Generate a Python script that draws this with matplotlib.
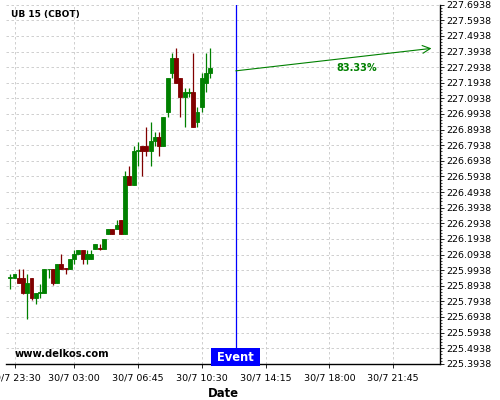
import matplotlib
matplotlib.use('Agg')
import matplotlib.pyplot as plt
import matplotlib.dates as mdates
from matplotlib.ticker import FixedLocator, NullFormatter
from matplotlib.transforms import blended_transform_factory
import pandas as pd

# ---- data ----
first_candle = '2015-07-29 23:15'
opens = [225.943, 225.943, 225.943, 225.943, 225.846, 225.943, 225.814, 225.846,
         225.846, 226.000, 225.999, 225.909, 226.031, 226.005, 225.999, 226.063,
         226.095, 226.125, 226.063, 226.063, 226.127, 226.135, 226.127, 226.223,
         226.255, 226.255, 226.313, 226.223, 226.595, 226.537, 226.759, 226.787,
         226.787, 226.757, 226.820, 226.845, 226.789, 227.008, 227.258, 227.352,
         227.226, 227.104, 227.130, 227.132, 226.943, 227.040, 227.194, 227.258]
highs = [225.971, 225.971, 226.003, 226.003, 225.971, 225.943, 225.846, 225.907,
         225.999, 226.003, 225.999, 226.031, 226.095, 226.005, 226.063, 226.125,
         226.125, 226.125, 226.125, 226.125, 226.159, 226.159, 226.191, 226.255,
         226.255, 226.313, 226.313, 226.627, 226.659, 226.787, 226.815, 226.787,
         226.909, 226.941, 226.879, 226.879, 226.975, 227.226, 227.382, 227.414,
         227.226, 227.161, 227.161, 227.382, 227.040, 227.256, 227.382, 227.414]
lows = [225.875, 225.943, 225.909, 225.840, 225.682, 225.800, 225.778, 225.814,
        225.846, 225.941, 225.900, 225.909, 225.999, 225.971, 225.999, 226.035,
        226.095, 226.035, 226.031, 226.063, 226.127, 226.125, 226.127, 226.223,
        226.223, 226.255, 226.223, 226.223, 226.537, 226.537, 226.659, 226.595,
        226.723, 226.659, 226.787, 226.723, 226.789, 226.975, 227.226, 227.194,
        226.975, 226.909, 227.100, 226.911, 226.911, 227.008, 227.132, 227.226]
closes = [225.947, 225.971, 225.909, 225.846, 225.909, 225.814, 225.846, 225.853,
          225.999, 226.003, 225.909, 226.031, 225.999, 226.000, 226.063, 226.095,
          226.125, 226.063, 226.095, 226.095, 226.159, 226.131, 226.191, 226.255,
          226.223, 226.283, 226.223, 226.595, 226.537, 226.755, 226.762, 226.757,
          226.757, 226.820, 226.845, 226.789, 226.975, 227.226, 227.352, 227.194,
          227.104, 227.132, 227.132, 226.911, 227.008, 227.226, 227.258, 227.288]

event_time = '2015-07-30 12:30'
arrow_end_time = '2015-07-31 00:00'
arrow_start_price = 227.27
arrow_end_price = 227.414
probability_label = '83.33%'

x_start = '2015-07-29 23:00'
x_end = '2015-07-31 00:30'
x_tick_times = ['2015-07-29 23:30', '2015-07-30 03:00', '2015-07-30 06:45',
                '2015-07-30 10:30', '2015-07-30 14:15', '2015-07-30 18:00',
                '2015-07-30 21:45']
x_tick_labels = ['29/7 23:30', '30/7 03:00', '30/7 06:45', '30/7 10:30',
                 '30/7 14:15', '30/7 18:00', '30/7 21:45']
y_ticks = [225.3938, 225.4938, 225.5938, 225.6938, 225.7938, 225.8938, 225.9938,
           226.0938, 226.1938, 226.2938, 226.3938, 226.4938, 226.5938, 226.6938,
           226.7938, 226.8938, 226.9938, 227.0938, 227.1938, 227.2938, 227.3938,
           227.4938, 227.5938, 227.6938]

UP = '#008000'
DOWN = '#800000'

times = pd.date_range(first_candle, periods=len(opens), freq='15min')
tnum = mdates.date2num(times.to_pydatetime())
width = 15 / 1440.0

fig = plt.figure(figsize=(5, 4), dpi=100)
ax = fig.add_axes([0.012, 0.0905, 0.868, 0.8978])

for t, o, h, l, c in zip(tnum, opens, highs, lows, closes):
    col = UP if c >= o else DOWN
    ax.vlines(t, l, h, color=col, linewidth=0.9, zorder=3)
    ax.bar(t, abs(c - o), bottom=min(o, c), width=width * 0.92, color=col,
           edgecolor=col, linewidth=0.6, zorder=4)

ev = mdates.date2num(pd.Timestamp(event_time).to_pydatetime())
ax.axvline(ev, color='#0000ff', linewidth=0.9, zorder=5)

ae = mdates.date2num(pd.Timestamp(arrow_end_time).to_pydatetime())
ax.annotate('', xy=(ae, arrow_end_price), xytext=(ev, arrow_start_price),
            arrowprops=dict(arrowstyle='->', color='#008000', lw=0.8,
                            mutation_scale=14, shrinkA=0, shrinkB=0), zorder=6)
ax.text(ev + (ae - ev) * 0.62, 227.29, probability_label, color='#008000',
        fontsize=7, fontweight='bold', ha='center', va='center', zorder=6)

xmin = mdates.date2num(pd.Timestamp(x_start).to_pydatetime())
xmax = mdates.date2num(pd.Timestamp(x_end).to_pydatetime())
ax.set_xlim(xmin, xmax)
ax.set_ylim(y_ticks[0], y_ticks[-1])

xt = mdates.date2num(pd.to_datetime(x_tick_times).to_pydatetime())
ax.set_xticks(xt)
ax.set_xticklabels(x_tick_labels, fontsize=6.8)
ax.set_yticks(y_ticks)
ax.set_yticklabels(['%.4f' % v for v in y_ticks], fontsize=6.8)
ax.yaxis.tick_right()
minor_y = [y_ticks[0] + k * 0.02 for k in range(int(round((y_ticks[-1] - y_ticks[0]) / 0.02)) + 1)]
ax.yaxis.set_minor_locator(FixedLocator(minor_y))
ax.yaxis.set_minor_formatter(NullFormatter())
ax.tick_params(axis='y', which='major', length=3, width=0.6, pad=1.2, colors='black')
ax.tick_params(axis='y', which='minor', length=1.5, width=0.5)
ax.tick_params(axis='x', which='major', length=3, width=0.6, pad=4)

ax.grid(True, which='major', color='#c8c8c8', linestyle=(0, (3, 3)), linewidth=0.6)
ax.set_axisbelow(True)

for s in ['left', 'top']:
    ax.spines[s].set_visible(False)
for s in ['right', 'bottom']:
    ax.spines[s].set_linewidth(1.0)
    ax.spines[s].set_color('black')

ax.set_xlabel('Date', fontsize=8.4, fontweight='bold', labelpad=3)

ax.text(0.0115, 0.972, 'UB 15 (CBOT)', transform=ax.transAxes, fontsize=6.5,
        fontweight='bold', ha='left', va='center')
ax.text(0.0207, 0.028, 'www.delkos.com', transform=ax.transAxes, fontsize=7.2,
        fontweight='bold', ha='left', va='center')

trans = blended_transform_factory(ax.transData, ax.transAxes)
ax.text(ev, 0.0, ' Event ', transform=trans, fontsize=8.3, fontweight='bold',
        color='white', ha='center', va='bottom', zorder=7,
        bbox=dict(boxstyle='square,pad=0.2', facecolor='#0000ff', edgecolor='none'))

fig.savefig('out.png', dpi=100)
